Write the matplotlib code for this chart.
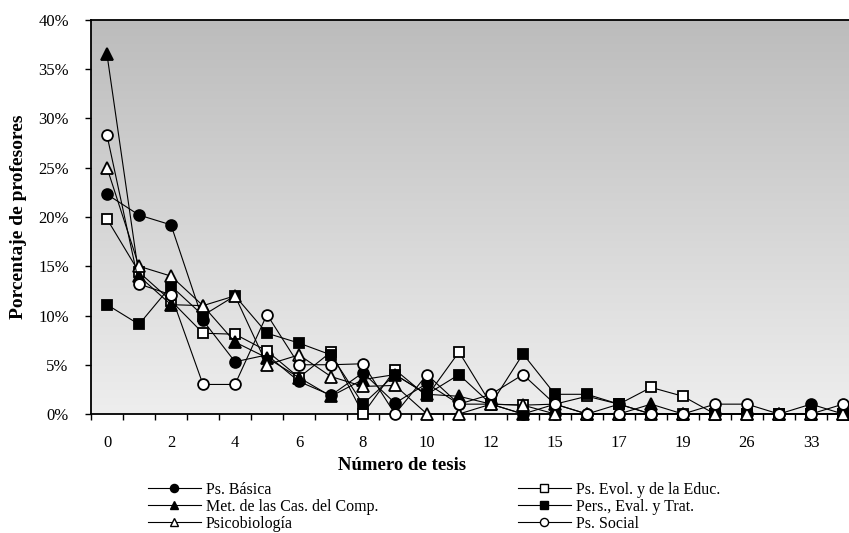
import numpy as np
import matplotlib
matplotlib.use("Agg")
import matplotlib.pyplot as plt
from matplotlib.lines import Line2D
from matplotlib.colors import LinearSegmentedColormap

# ---- data -------------------------------------------------------------
categories = ["0", "1", "2", "3", "4", "5", "6", "7", "8", "9", "10", "11",
              "12", "13", "15", "16", "17", "18", "19", "21", "26", "29",
              "33", "36"]
basica = [22.3, 20.2, 19.2, 9.5, 5.3, 6.0, 3.3, 1.9, 4.2, 1.1, 3.1, 1.0,
          1.0, 0.0, 0.0, 0.0, 1.0, 0.0, 0.0, 0.0, 0.0, 0.0, 1.0, 0.0]
evol = [19.8, 14.4, 11.5, 8.2, 8.1, 6.4, 3.7, 6.3, 0.0, 4.5, 1.8, 6.3,
        1.0, 0.9, 1.0, 1.8, 1.0, 2.7, 1.8, 0.0, 0.0, 0.0, 0.0, 0.0]
met = [36.5, 14.0, 11.1, 11.0, 7.3, 5.7, 3.7, 1.8, 3.5, 4.0, 2.0, 1.8,
       1.0, 0.0, 1.0, 0.0, 0.0, 1.0, 0.0, 0.0, 0.0, 0.0, 0.0, 0.0]
pers = [11.1, 9.1, 13.0, 10.0, 12.0, 8.2, 7.2, 6.0, 1.0, 4.0, 2.0, 4.0,
        1.0, 6.1, 2.0, 2.0, 1.0, 0.0, 0.0, 0.0, 0.0, 0.0, 0.0, 0.0]
psico = [25.0, 15.0, 14.0, 11.0, 12.0, 5.0, 6.0, 3.8, 2.8, 2.9, 0.0, 0.0,
         1.0, 0.9, 0.0, 0.0, 0.0, 0.0, 0.0, 0.0, 0.0, 0.0, 0.0, 0.0]
social = [28.3, 13.2, 12.1, 3.0, 3.0, 10.1, 5.0, 5.0, 5.1, 0.0, 4.0, 1.0,
          2.0, 4.0, 1.0, 0.0, 0.0, 0.0, 0.0, 1.0, 1.0, 0.0, 0.0, 1.0]

series_names = ["Ps. Básica", "Ps. Evol. y de la Educ.",
                "Met. de las Cas. del Comp.", "Pers., Eval. y Trat.",
                "Psicobiología", "Ps. Social"]
yticks = [0, 5, 10, 15, 20, 25, 30, 35, 40]

# ---- style ------------------------------------------------------------
plt.rcParams['font.family'] = ['Liberation Serif', 'DejaVu Serif']

W, H = 849, 533
fig = plt.figure(figsize=(W / 100, H / 100), dpi=100)
ax = fig.add_axes([91 / W, (H - 414) / H, (859 - 91) / W, (414 - 20) / H])

x = np.arange(len(categories))

# gradient background
cmap = LinearSegmentedColormap.from_list("bg", ["#bcbcbc", "#eeeeee"])
ax.imshow(np.linspace(0, 1, 256).reshape(-1, 1), cmap=cmap, aspect="auto",
          extent=(-0.5, len(categories) - 0.5, 0, 40), zorder=0,
          interpolation="bilinear")

styles = [
    dict(marker="o", mfc="black", ms=7.8),
    dict(marker="s", mfc="white", ms=7.2),
    dict(marker="^", mfc="black", ms=8.4),
    dict(marker="s", mfc="black", ms=7.2),
    dict(marker="^", mfc="white", ms=8.4),
    dict(marker="o", mfc="white", ms=7.8),
]
data = [basica, evol, met, pers, psico, social]
handles = []
for vals, st, name in zip(data, styles, series_names):
    h, = ax.plot(x, vals, color="black", lw=0.8, marker=st["marker"],
                 mfc=st["mfc"], mec="black", mew=1.3, ms=st["ms"],
                 label=name, zorder=3, clip_on=False)
    handles.append(h)

ax.set_xlim(-0.5, len(categories) - 0.5)
ax.set_ylim(0, 40)

for s in ["top", "left", "bottom", "right"]:
    ax.spines[s].set_linewidth(1.3)
    ax.spines[s].set_color("black")

ax.set_yticks(yticks)
ax.set_yticklabels([f"{v}%" for v in yticks], fontsize=12)
ax.tick_params(axis="y", direction="out", length=4, width=1, pad=12)

ax.set_xticks(x[::2])
ax.set_xticklabels(categories[::2], fontsize=12)
ax.set_xticks(np.arange(-0.5, len(categories), 1), minor=True)
ax.tick_params(axis="x", which="major", length=0, pad=15)
ax.tick_params(axis="x", which="minor", direction="out", length=4, width=1)

fig.text(402 / W, 1 - 466 / H, "Número de tesis", fontsize=13.5,
         fontweight="bold", ha="center", va="center")
fig.text(19 / W, 1 - 217 / H, "Porcentaje de profesores", fontsize=14,
         fontweight="bold", ha="center", va="center", rotation=90)

# legends (Excel-like two columns)
def mk(h):
    return Line2D([], [], color="black", lw=0.8, marker=h.get_marker(),
                  mfc=h.get_markerfacecolor(), mec="black", mew=1.0,
                  ms=h.get_markersize() * 0.75)

left = [handles[0], handles[2], handles[4]]
right = [handles[1], handles[3], handles[5]]
for grp, xpos in ((left, 148), (right, 518)):
    fig.legend([mk(h) for h in grp], [h.get_label() for h in grp],
               loc="upper left", bbox_to_anchor=(xpos / W, 1 - 482 / H),
               frameon=False, fontsize=11.5, handlelength=3.3,
               handletextpad=0.3, labelspacing=0.05, borderpad=0,
               borderaxespad=0)

fig.savefig("out.png", dpi=100)
